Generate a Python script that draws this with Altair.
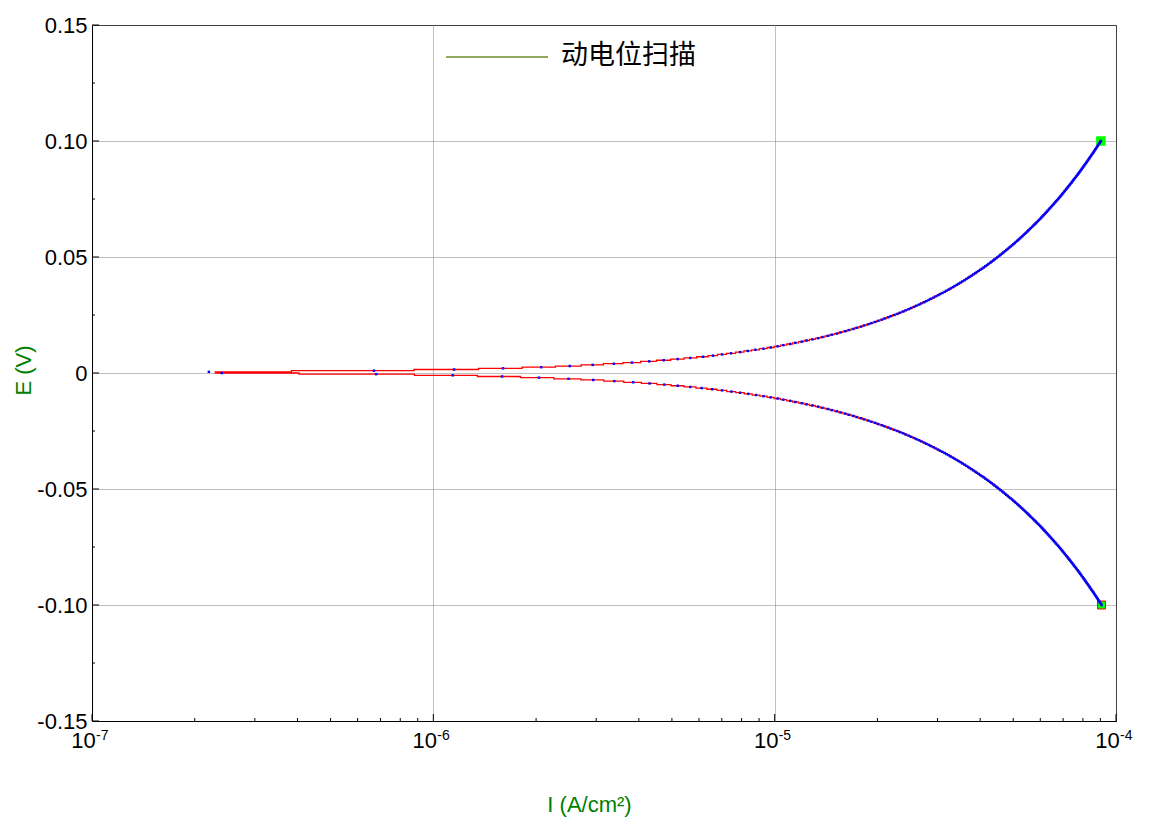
import altair as alt
import pandas as pd

# Potential steps (mV, absolute value) of the anodic branch: 0.5 ... 100 mV
E_up_mV = [0.5, 1.0, 1.5, 2.0, 2.5, 3.0, 3.5, 4.0, 4.5, 5.0,
           5.5, 6.0, 6.5, 7.0, 7.5, 8.0, 8.5, 9.0, 9.5, 10.0,
           10.5, 11.0, 11.5, 12.0, 12.5, 13.0, 13.5, 14.0, 14.5, 15.0,
           15.5, 16.0, 16.5, 17.0, 17.5, 18.0, 18.5, 19.0, 19.5, 20.0,
           20.5, 21.0, 21.5, 22.0, 22.5, 23.0, 23.5, 24.0, 24.5, 25.0,
           25.5, 26.0, 26.5, 27.0, 27.5, 28.0, 28.5, 29.0, 29.5, 30.0,
           30.5, 31.0, 31.5, 32.0, 32.5, 33.0, 33.5, 34.0, 34.5, 35.0,
           35.5, 36.0, 36.5, 37.0, 37.5, 38.0, 38.5, 39.0, 39.5, 40.0,
           40.5, 41.0, 41.5, 42.0, 42.5, 43.0, 43.5, 44.0, 44.5, 45.0,
           45.5, 46.0, 46.5, 47.0, 47.5, 48.0, 48.5, 49.0, 49.5, 50.0,
           50.5, 51.0, 51.5, 52.0, 52.5, 53.0, 53.5, 54.0, 54.5, 55.0,
           55.5, 56.0, 56.5, 57.0, 57.5, 58.0, 58.5, 59.0, 59.5, 60.0,
           60.5, 61.0, 61.5, 62.0, 62.5, 63.0, 63.5, 64.0, 64.5, 65.0,
           65.5, 66.0, 66.5, 67.0, 67.5, 68.0, 68.5, 69.0, 69.5, 70.0,
           70.5, 71.0, 71.5, 72.0, 72.5, 73.0, 73.5, 74.0, 74.5, 75.0,
           75.5, 76.0, 76.5, 77.0, 77.5, 78.0, 78.5, 79.0, 79.5, 80.0,
           80.5, 81.0, 81.5, 82.0, 82.5, 83.0, 83.5, 84.0, 84.5, 85.0,
           85.5, 86.0, 86.5, 87.0, 87.5, 88.0, 88.5, 89.0, 89.5, 90.0,
           90.5, 91.0, 91.5, 92.0, 92.5, 93.0, 93.5, 94.0, 94.5, 95.0,
           95.5, 96.0, 96.5, 97.0, 97.5, 98.0, 98.5, 99.0, 99.5, 100.0]

I_up_uA = [0.22, 0.67, 1.15, 1.60, 2.07, 2.51, 2.93, 3.38, 3.82, 4.29,
           4.73, 5.20, 5.66, 6.17, 6.60, 7.01, 7.45, 7.92, 8.34, 8.78,
           9.27, 9.74, 10.2, 10.6, 11.1, 11.5, 12.0, 12.4, 12.9, 13.4,
           13.8, 14.3, 14.7, 15.2, 15.6, 16.1, 16.5, 17.0, 17.4, 17.9,
           18.3, 18.8, 19.2, 19.7, 20.1, 20.6, 21.0, 21.5, 21.9, 22.4,
           22.9, 23.3, 23.8, 24.2, 24.7, 25.1, 25.6, 26.0, 26.5, 26.9,
           27.4, 27.8, 28.3, 28.7, 29.2, 29.6, 30.1, 30.5, 31.0, 31.5,
           31.9, 32.4, 32.8, 33.3, 33.7, 34.2, 34.6, 35.1, 35.5, 36.0,
           36.4, 36.9, 37.3, 37.8, 38.2, 38.7, 39.1, 39.6, 40.0, 40.5,
           41.0, 41.4, 41.9, 42.3, 42.8, 43.2, 43.7, 44.1, 44.6, 45.0,
           45.5, 45.9, 46.4, 46.8, 47.3, 47.7, 48.2, 48.6, 49.1, 49.6,
           50.0, 50.5, 50.9, 51.4, 51.8, 52.3, 52.7, 53.2, 53.6, 54.1,
           54.5, 55.0, 55.4, 55.9, 56.3, 56.8, 57.2, 57.7, 58.2, 58.6,
           59.1, 59.5, 60.0, 60.4, 60.9, 61.3, 61.8, 62.2, 62.7, 63.1,
           63.6, 64.0, 64.5, 64.9, 65.4, 65.8, 66.3, 66.7, 67.2, 67.7,
           68.1, 68.6, 69.0, 69.5, 69.9, 70.4, 70.8, 71.3, 71.7, 72.2,
           72.6, 73.1, 73.5, 74.0, 74.4, 74.9, 75.3, 75.8, 76.3, 76.7,
           77.2, 77.6, 78.1, 78.5, 79.0, 79.4, 79.9, 80.3, 80.8, 81.2,
           81.7, 82.1, 82.6, 83.0, 83.5, 83.9, 84.4, 84.8, 85.3, 85.8,
           86.2, 86.7, 87.1, 87.6, 88.0, 88.5, 88.9, 89.4, 89.8, 90.3]

# Potential steps (mV, absolute value) of the cathodic branch: 0 ... 100 mV
E_dn_mV = [0.0] + E_up_mV

I_dn_uA = [0.24, 0.68, 1.14, 1.59, 2.04, 2.49, 2.94, 3.39, 3.85, 4.30,
           4.75, 5.20, 5.66, 6.11, 6.56, 7.01, 7.47, 7.92, 8.37, 8.82,
           9.28, 9.73, 10.2, 10.6, 11.1, 11.5, 12.0, 12.4, 12.9, 13.4,
           13.8, 14.3, 14.7, 15.2, 15.6, 16.1, 16.5, 17.0, 17.4, 17.9,
           18.3, 18.8, 19.2, 19.7, 20.1, 20.6, 21.0, 21.5, 21.9, 22.4,
           22.9, 23.3, 23.8, 24.2, 24.7, 25.1, 25.6, 26.0, 26.5, 26.9,
           27.4, 27.8, 28.3, 28.7, 29.2, 29.6, 30.1, 30.5, 31.0, 31.5,
           31.9, 32.4, 32.8, 33.3, 33.7, 34.2, 34.6, 35.1, 35.5, 36.0,
           36.4, 36.9, 37.3, 37.8, 38.2, 38.7, 39.1, 39.6, 40.0, 40.5,
           41.0, 41.4, 41.9, 42.3, 42.8, 43.2, 43.7, 44.1, 44.6, 45.0,
           45.5, 45.9, 46.4, 46.8, 47.3, 47.7, 48.2, 48.6, 49.1, 49.6,
           50.0, 50.5, 50.9, 51.4, 51.8, 52.3, 52.7, 53.2, 53.6, 54.1,
           54.5, 55.0, 55.4, 55.9, 56.3, 56.8, 57.2, 57.7, 58.2, 58.6,
           59.1, 59.5, 60.0, 60.4, 60.9, 61.3, 61.8, 62.2, 62.7, 63.1,
           63.6, 64.0, 64.5, 64.9, 65.4, 65.8, 66.3, 66.7, 67.2, 67.7,
           68.1, 68.6, 69.0, 69.5, 69.9, 70.4, 70.8, 71.3, 71.7, 72.2,
           72.6, 73.1, 73.5, 74.0, 74.4, 74.9, 75.3, 75.8, 76.3, 76.7,
           77.2, 77.6, 78.1, 78.5, 79.0, 79.4, 79.9, 80.3, 80.8, 81.2,
           81.7, 82.1, 82.6, 83.0, 83.5, 83.9, 84.4, 84.8, 85.3, 85.8,
           86.2, 86.7, 87.1, 87.6, 88.0, 88.5, 88.9, 89.4, 89.8, 90.3,
           90.7]

x_major = [1e-7, 1e-6, 1e-5, 1e-4]
x_exp = ["-7", "-6", "-5", "-4"]
x_minor = [2e-7, 3e-7, 4e-7, 5e-7, 6e-7, 7e-7, 8e-7, 9e-7,
           2e-6, 3e-6, 4e-6, 5e-6, 6e-6, 7e-6, 8e-6, 9e-6,
           2e-5, 3e-5, 4e-5, 5e-5, 6e-5, 7e-5, 8e-5, 9e-5]
y_major = [-0.15, -0.10, -0.05, 0.0, 0.05, 0.10, 0.15]
y_minor = [-0.125, -0.075, -0.025, 0.025, 0.075, 0.125]

legend_label = "动电位扫描"

# ---- build scan-ordered table (from -100 mV up to +100 mV) ----
rows = []
k = 0
for e, i in zip(reversed(E_dn_mV), reversed(I_dn_uA)):
    rows.append({"idx": k, "E": -e / 1000.0, "I": i * 1e-6}); k += 1
for e, i in zip(E_up_mV, I_up_uA):
    rows.append({"idx": k, "E": e / 1000.0, "I": i * 1e-6}); k += 1
df = pd.DataFrame(rows)
start_df = df.iloc[[0]]
end_df = df.iloc[[-1]]

W, H = 1024, 696
FONT = "Liberation Sans"
MINUS = "\u2212"

x_scale = alt.Scale(type="log", domain=[1e-7, 1e-4])
y_scale = alt.Scale(domain=[-0.15, 0.15])

x_enc = alt.X("I:Q", scale=x_scale, axis=alt.Axis(
    values=x_major, labelExpr="'10'", labelOffset=-9, labelPadding=9,
    labelFlush=False, labelOverlap=False,
    title="I (A/cm²)", titleX=497, titleY=83, titleBaseline="middle",
    titleAlign="center"))
y_enc = alt.Y("E:Q", scale=y_scale, axis=alt.Axis(
    values=y_major, labelFlush=False, labelOverlap=False,
    labelExpr="datum.value == 0 ? '0' : replace(format(datum.value, '.2f'), '" + MINUS + "', '-')",
    labelPadding=5, title="E (V)", titleX=-69, titleY=H / 2 - 3,
    titleBaseline="middle", titleAlign="center", titleAngle=-90))

line = alt.Chart(df).mark_line(color="#FF0000", strokeWidth=1.3, interpolate="step").encode(
    x=x_enc, y=y_enc, order=alt.Order("idx:Q"))
pts = alt.Chart(df).mark_square(color="#0000FF", size=6, opacity=1).encode(x=x_enc, y=y_enc)
start_pt = alt.Chart(start_df).mark_square(fill="#00FF00", stroke="#FF0000", strokeWidth=1,
                                           size=64, opacity=1).encode(x=x_enc, y=y_enc)
end_pt = alt.Chart(end_df).mark_square(fill="#00FF00", size=90, opacity=1).encode(x=x_enc, y=y_enc)

xt_major = alt.Chart(pd.DataFrame({"I": x_major})).mark_rule(color="black").encode(
    x=x_enc, y=alt.value(H), y2=alt.value(H - 7))
xt_minor = alt.Chart(pd.DataFrame({"I": x_minor})).mark_rule(color="black").encode(
    x=x_enc, y=alt.value(H), y2=alt.value(H - 3))
yt_major = alt.Chart(pd.DataFrame({"E": y_major})).mark_rule(color="black").encode(
    y=y_enc, x=alt.value(0), x2=alt.value(7))
yt_minor = alt.Chart(pd.DataFrame({"E": y_minor})).mark_rule(color="black").encode(
    y=y_enc, x=alt.value(0), x2=alt.value(3))
x_exp_txt = alt.Chart(pd.DataFrame({"I": x_major, "t": x_exp})).mark_text(
    font=FONT, fontSize=14, align="left", baseline="top", dx=4, color="black").encode(
    x=x_enc, y=alt.value(H + 8), text="t:N")

leg_line = alt.Chart(alt.Data(values=[{}])).mark_rule(color="#6A8C2A", strokeWidth=1.3).encode(
    x=alt.value(354), x2=alt.value(456), y=alt.value(32))
leg_text = alt.Chart(alt.Data(values=[{}])).mark_text(
    text=legend_label, font="Noto Sans CJK SC", fontSize=27, align="left",
    baseline="middle", color="black").encode(x=alt.value(469), y=alt.value(31))

chart = alt.layer(
    start_pt, end_pt, line, pts, xt_major, xt_minor, yt_major, yt_minor,
    x_exp_txt, leg_line, leg_text
).properties(
    width=W, height=H,
    autosize=alt.AutoSizeParams(type="none"),
    padding={"left": 84, "top": 17, "right": 31, "bottom": 99},
).configure_view(
    stroke="black", strokeWidth=1
).configure_axis(
    labelFont=FONT, labelFontSize=22, labelColor="black",
    titleFont=FONT, titleFontSize=22, titleColor="#008000", titleFontWeight="normal",
    ticks=False, domain=True, domainColor="black",
    grid=True, gridColor="#808080", gridDash=[1, 1], gridOpacity=1, gridWidth=1,
)

chart.save("out.html", embed_options={"renderer": "svg", "actions": False})
